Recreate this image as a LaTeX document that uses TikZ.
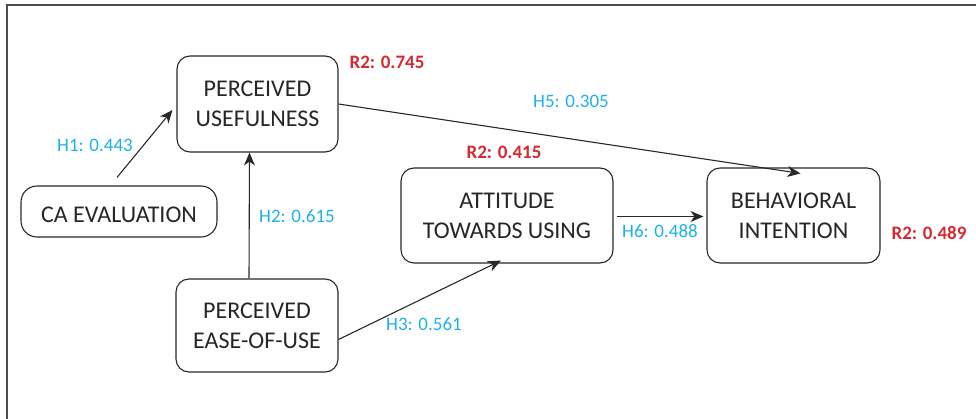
\documentclass[tikz,border=0pt]{standalone}
\usepackage{fontspec}
\setmainfont{Carlito}
\usepackage{xcolor}
\usetikzlibrary{positioning,calc,arrows.meta}

\definecolor{pathcyan}{RGB}{30,176,232}
\definecolor{rsqred}{RGB}{214,40,48}
\definecolor{linegray}{RGB}{40,40,40}

\tikzset{
    construct/.style={draw=linegray, line width=1.1pt, rounded corners=13pt, align=center,
        font=\fontsize{24}{30}\selectfont, text=black!85, inner sep=0pt,
        execute at begin node={\rule{0pt}{22pt}}},
    path/.style={draw=linegray, line width=1.1pt, -{Stealth[length=13pt,width=11pt,inset=4pt]}},
    coef/.style={text=pathcyan, font=\fontsize{19}{22}\selectfont},
    rsq/.style={text=rsqred, font=\fontsize{19}{22}\selectfont\bfseries}
}

\begin{document}
\begin{tikzpicture}[x=1pt,y=-1pt]
    \useasboundingbox (0,0) rectangle (976,419);
    % Frame
    \draw[gray!60!black, line width=1.8pt] (7,419) -- (7,5) -- (976,5);

    % Constructs
    \node[construct, minimum width=161pt, minimum height=96pt] (pu) at (257.5,104) {PERCEIVED\\USEFULNESS};
    \node[construct, minimum width=196pt, minimum height=51pt, rounded corners=16pt] (ca) at (119,211.5) {CA EVALUATION};
    \node[construct, minimum width=162pt, minimum height=93pt] (peou) at (257,325.5) {PERCEIVED\\EASE-OF-USE};
    \node[construct, minimum width=212pt, minimum height=95pt] (atu) at (507,215.5) {ATTITUDE\\TOWARDS USING};
    \node[construct, minimum width=173pt, minimum height=95pt] (bi) at (793.5,215.5) {BEHAVIORAL\\INTENTION};

    % Paths
    \coordinate (h1start) at ($(ca.north)+(-2,-8)$);
    \draw[path] (h1start) -- ($(pu.west)+(-4,6)$);
    \draw[path] ([xshift=-8pt]peou.north) -- ([xshift=-8pt]pu.south);
    \draw[path] ([yshift=-14pt]peou.east) -- ([xshift=-6pt,yshift=3pt]atu.south);
    \draw[path] (pu.east) -- ([xshift=7pt,yshift=-6pt]bi.north);
    \draw[path] ([xshift=3pt,yshift=-1pt]atu.east) -- ([xshift=-3pt,yshift=-1pt]bi.west);

    % Coefficients
    \node[coef] (h1) at (95,145) {H1: 0.443};
    \node[coef] (h2) at (297,216) {H2: 0.615};
    \node[coef] (h3) at (424,324) {H3: 0.561};
    \node[coef] (h5) at (571,101) {H5: 0.305};
    \node[coef] (h6) at (660,231) {H6: 0.488};

    % R-squared
    \node[rsq] (rpu) at (387,62) {R2: 0.745};
    \node[rsq] (ratu) at (504,152) {R2: 0.415};
    \node[rsq] (rbi) at (929,233) {R2: 0.489};
\end{tikzpicture}
\end{document}
